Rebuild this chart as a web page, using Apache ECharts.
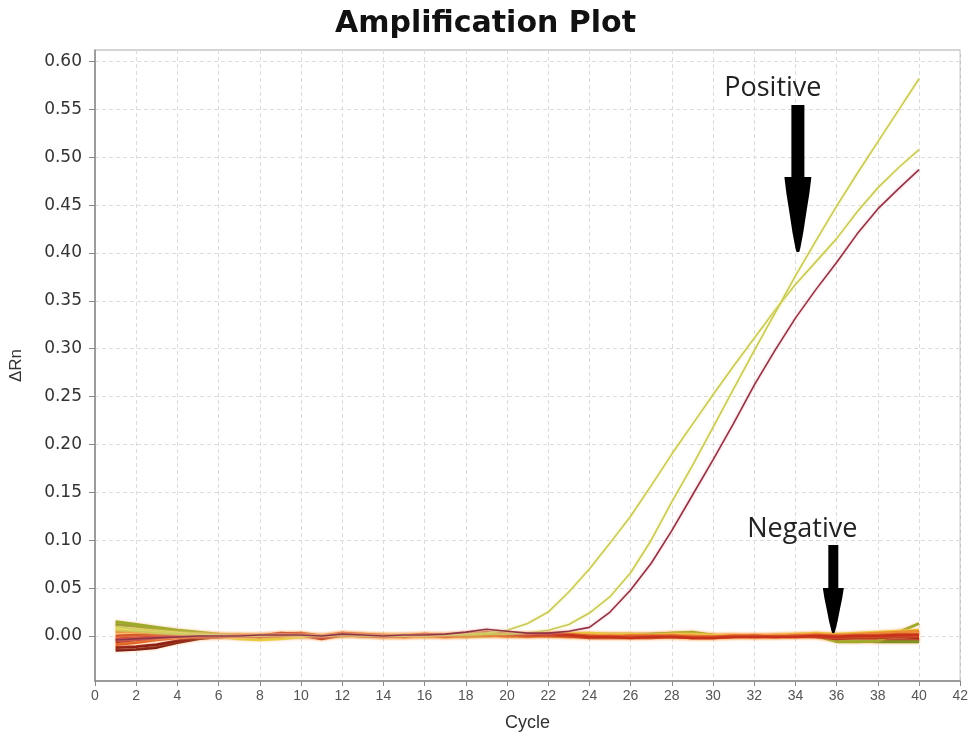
<!DOCTYPE html>
<html>
<head>
<meta charset="utf-8">
<script src="https://cdn.jsdelivr.net/npm/echarts@6/dist/echarts.min.js"></script>
<style>
html,body{margin:0;padding:0;background:#fff;}
#chart{width:971px;height:738px;}
</style>
</head>
<body>
<div id="chart"></div>
<script>
// ---- data ----
var cycles = [1,2,3,4,5,6,7,8,9,10,11,12,13,14,15,16,17,18,19,20,21,22,23,24,25,26,27,28,29,30,31,32,33,34,35,36,37,38,39,40];
var yTicks = [0,0.05,0.10,0.15,0.20,0.25,0.30,0.35,0.40,0.45,0.50,0.55,0.60];

// positive samples
var posYellowEarly = [0.010,0.007,0.005,0.003,0.002,0.001,0.000,0.000,0.001,0.001,0.000,0.001,0.001,0.000,0.000,0.001,0.001,0.002,0.003,0.006,0.013,0.025,0.046,0.070,0.097,0.125,0.157,0.190,0.221,0.252,0.282,0.311,0.340,0.367,0.391,0.415,0.443,0.468,0.489,0.508];
var posYellowLate  = [0.006,0.005,0.003,0.002,0.001,0.000,0.000,0.001,0.001,0.000,0.000,0.001,0.000,0.000,0.001,0.000,0.001,0.001,0.002,0.002,0.003,0.006,0.012,0.024,0.041,0.066,0.100,0.140,0.178,0.218,0.258,0.298,0.337,0.376,0.413,0.449,0.483,0.516,0.549,0.582];
var posRed         = [-0.004,-0.003,-0.002,-0.001,0.000,0.000,0.000,0.001,0.001,0.001,0.000,0.002,0.001,0.000,0.001,0.001,0.002,0.004,0.007,0.005,0.003,0.003,0.005,0.009,0.025,0.048,0.076,0.110,0.147,0.184,0.222,0.262,0.298,0.332,0.362,0.390,0.420,0.446,0.467,0.487];

// negative samples
var neg1  = [0.015,0.012,0.009,0.006,0.004,0.002,0.001,0.000,0.000,-0.001,0.000,0.001,0.000,0.000,0.001,0.001,0.000,-0.001,0.000,0.001,0.001,0.000,0.000,0.001,0.001,0.001,0.002,0.003,0.004,0.001,0.000,0.000,0.001,0.001,0.000,-0.006,-0.006,-0.005,0.004,0.013];
var neg2  = [0.012,0.010,0.007,0.005,0.003,0.001,0.000,-0.001,0.000,0.000,-0.001,0.000,0.001,0.000,-0.001,0.000,0.000,0.001,0.001,0.000,0.000,0.001,0.002,0.002,0.002,0.002,0.002,0.003,0.003,0.001,0.000,-0.001,0.000,0.001,0.001,-0.004,-0.005,-0.006,-0.006,-0.006];
var neg3  = [0.008,0.007,0.005,0.003,0.001,0.000,-0.003,-0.004,-0.003,-0.001,0.000,0.001,0.001,0.000,0.000,-0.001,0.000,0.000,0.001,0.002,0.002,0.002,0.003,0.003,0.002,0.002,0.001,0.002,0.002,0.001,0.001,0.000,0.001,0.002,0.003,0.002,0.003,0.004,0.005,0.006];
var neg4  = [0.004,0.004,0.003,0.002,0.001,0.001,0.000,0.000,0.001,0.001,0.000,0.002,0.001,0.000,0.001,0.001,0.001,0.002,0.002,0.001,0.001,0.002,0.001,0.001,0.000,0.000,0.000,0.001,0.000,-0.001,0.000,0.001,0.000,0.001,0.002,0.001,0.002,0.003,0.004,0.005];
var neg5  = [0.000,0.001,0.001,0.001,0.000,0.000,0.001,0.001,0.002,0.003,0.000,0.003,0.002,0.001,0.000,0.001,0.000,0.001,0.001,0.001,0.001,0.003,0.002,0.000,-0.001,0.000,0.000,0.000,-0.001,-0.001,0.000,0.000,-0.001,0.000,0.001,0.000,0.001,0.001,0.002,0.002];
var neg6  = [-0.003,-0.002,-0.001,0.000,0.000,-0.001,0.000,0.000,0.003,0.002,-0.002,0.002,0.001,0.000,0.000,0.002,0.001,0.002,0.003,0.002,0.001,0.002,0.001,-0.001,-0.001,-0.002,-0.001,-0.001,-0.002,-0.002,-0.001,-0.001,-0.001,-0.001,0.000,-0.001,0.000,0.000,0.001,0.001];
var neg7  = [-0.006,-0.004,-0.002,0.000,0.001,0.001,0.000,-0.001,0.001,0.001,-0.003,0.001,0.000,-0.001,0.000,0.001,0.000,0.001,0.002,0.001,0.000,0.001,0.000,-0.002,-0.002,-0.002,-0.002,-0.001,-0.002,-0.002,-0.001,0.000,-0.001,0.000,-0.001,-0.003,-0.002,-0.002,-0.001,-0.002];
var neg8  = [-0.009,-0.007,-0.004,-0.002,0.000,0.000,0.000,0.000,0.000,0.002,-0.001,0.002,0.001,0.000,-0.001,0.000,-0.001,0.000,0.001,0.000,0.000,0.000,-0.001,-0.001,0.000,-0.001,-0.001,0.000,-0.001,-0.001,0.000,-0.001,0.000,0.000,0.001,0.000,-0.001,-0.001,0.000,0.000];
var neg9  = [-0.012,-0.011,-0.009,-0.005,-0.002,-0.001,0.000,0.000,0.001,0.001,-0.002,0.003,0.001,0.000,0.000,0.001,0.000,0.002,0.004,0.002,0.001,0.001,0.000,-0.001,-0.001,-0.001,0.000,0.000,-0.001,-0.001,0.000,-0.001,0.000,0.000,0.000,-0.002,-0.003,-0.004,-0.004,-0.004];
var neg10 = [-0.015,-0.014,-0.012,-0.007,-0.003,-0.001,-0.001,0.000,0.002,0.002,-0.001,0.002,0.001,0.000,0.000,0.001,0.001,0.002,0.002,0.001,0.001,0.001,0.001,0.000,-0.001,-0.001,-0.001,-0.001,-0.002,-0.002,-0.001,-0.001,-0.001,-0.001,-0.001,-0.003,-0.004,-0.005,-0.005,-0.005];

var annotationLabels = ['Positive', 'Negative'];
var annotationTips = [[34.12, 0.401], [35.84, 0.003]];

// ---- chart ----
function pairs(vals){ return cycles.map(function(c,i){ return [c, vals[i]]; }); }

// drawn in this order (last on top)
var negSets = [
  {d: neg10, c: '#7a1810'},
  {d: neg9,  c: '#8e1e14'},
  {d: neg2,  c: '#7f8f22'},
  {d: neg1,  c: '#9aab2a'},
  {d: neg3,  c: '#e4d23c'},
  {d: neg4,  c: '#e8892a'},
  {d: neg8,  c: '#e0601e'},
  {d: neg7,  c: '#b02818'},
  {d: neg5,  c: '#d4501c'},
  {d: neg6,  c: '#c8321a'}
];

var series = [];
negSets.forEach(function(s, i){
  series.push({
    type: 'line', name: 'neg' + (i+1), data: pairs(s.d),
    showSymbol: false, symbol: 'none',
    lineStyle: {color: s.c, width: 2.8, shadowColor: 'rgba(255,170,90,0.6)', shadowBlur: 3}, z: 2
  });
});
series.push({type:'line', name:'posYellowEarly', data: pairs(posYellowEarly), showSymbol:false, symbol:'none',
  lineStyle:{color:'#c9c95a', width:1.6, shadowColor:'rgba(240,240,150,0.9)', shadowBlur:3}, z:3});
series.push({type:'line', name:'posYellowLate', data: pairs(posYellowLate), showSymbol:false, symbol:'none',
  lineStyle:{color:'#c9c95a', width:1.6, shadowColor:'rgba(240,240,150,0.9)', shadowBlur:3}, z:3});
series.push({type:'line', name:'posRed', data: pairs(posRed), showSymbol:false, symbol:'none',
  lineStyle:{color:'#8e3444', width:1.6, shadowColor:'rgba(250,180,190,0.9)', shadowBlur:3}, z:3});

var chart = echarts.init(document.getElementById('chart'), null, {renderer: 'canvas'});
var axisFont = '"Liberation Sans", Arial, sans-serif';
var wideFont = '"DejaVu Sans", Verdana, sans-serif';
chart.setOption({
  animation: false,
  backgroundColor: '#ffffff',
  title: {
    text: 'Amplification Plot', left: 'center', top: 4,
    textStyle: {fontFamily: wideFont, fontWeight: 'bold', fontSize: 30, color: '#111'}
  },
  grid: {left: 95, right: 6, top: 50, bottom: 57, show: true, borderColor: '#aaaaaa', borderWidth: 1, backgroundColor: '#fff'},
  xAxis: {
    type: 'value', min: 0, max: 42, interval: 2,
    name: 'Cycle', nameLocation: 'middle', nameGap: 33,
    nameTextStyle: {fontFamily: axisFont, fontSize: 18, color: '#333'},
    axisLine: {onZero: false, lineStyle: {color: '#888', width: 1.5}},
    axisTick: {show: true, length: 5, lineStyle: {color: '#888'}},
    axisLabel: {fontFamily: axisFont, fontSize: 14, color: '#555', margin: 8},
    splitLine: {show: true, lineStyle: {color: '#dcdcdc', type: [4, 3], width: 1}}
  },
  yAxis: {
    type: 'value', min: -0.047, max: 0.612,
    name: 'ΔRn', nameLocation: 'middle', nameGap: 70, nameRotate: 90,
    nameTextStyle: {fontFamily: axisFont, fontSize: 17, color: '#333'},
    axisLine: {show: true, onZero: false, lineStyle: {color: '#888', width: 1.5}},
    axisTick: {show: true, length: 6, lineStyle: {color: '#888'}, customValues: yTicks},
    axisLabel: {fontFamily: wideFont, fontSize: 17, color: '#333', margin: 13, customValues: yTicks,
      formatter: function(v){ return v.toFixed(2); }},
    splitLine: {show: true, lineStyle: {color: '#dcdcdc', type: [4, 3], width: 1}}
  },
  series: series
});

// annotations (arrows + labels), anchored to data coordinates
function arrowPoints(len, headLen, shaftHW, headHW){
  var h = headLen;
  return [
    [-shaftHW, -len], [shaftHW, -len], [shaftHW, -h],
    [headHW, -h], [headHW*0.85, -h*0.78], [headHW*0.62, -h*0.52],
    [headHW*0.4, -h*0.26], [headHW*0.18, -h*0.05], [headHW*0.1, 0],
    [-headHW*0.1, 0], [-headHW*0.18, -h*0.05], [-headHW*0.4, -h*0.26],
    [-headHW*0.62, -h*0.52], [-headHW*0.85, -h*0.78], [-headHW, -h],
    [-shaftHW, -h]
  ];
}
var arrowDims = [
  {len: 147, head: 75, shw: 6.5, hhw: 13.5, tdx: -25, tdy: -164, fs: 27},
  {len: 88, head: 45, shw: 5, hhw: 10.5, tdx: -31, tdy: -104, fs: 27}
];
var graphics = [];
annotationLabels.forEach(function(lbl, i){
  var p = chart.convertToPixel({gridIndex: 0}, annotationTips[i]);
  var d = arrowDims[i];
  graphics.push({
    type: 'polygon', x: p[0], y: p[1], z: 100,
    shape: {points: arrowPoints(d.len, d.head, d.shw, d.hhw)},
    style: {fill: '#000'}
  });
  graphics.push({
    type: 'text', x: p[0] + d.tdx, y: p[1] + d.tdy, z: 100,
    style: {text: lbl, fill: '#222', font: '500 ' + d.fs + 'px "Open Sans", "Noto Sans", sans-serif',
      textAlign: 'center', textVerticalAlign: 'middle'}
  });
});
chart.setOption({graphic: graphics});
</script>
</body>
</html>
